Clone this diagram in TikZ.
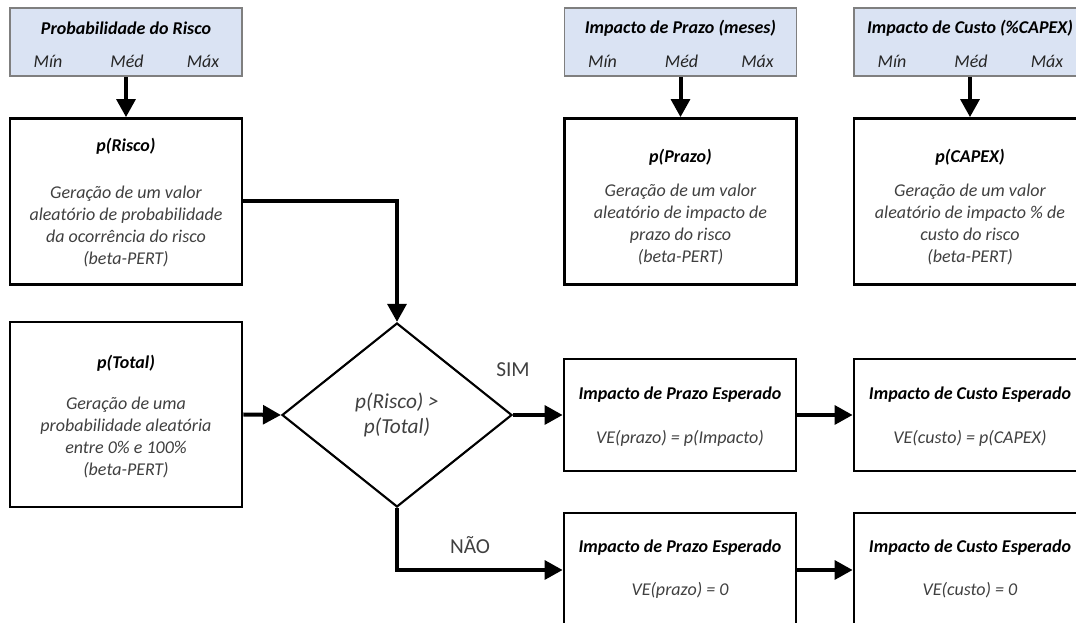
\documentclass[tikz,border=0pt]{standalone}
\usepackage{fontspec}
\setmainfont{Carlito}
\usetikzlibrary{arrows.meta,shapes.geometric}
\definecolor{hdrfill}{HTML}{DAE3F3}
\definecolor{hdrline}{HTML}{7F7F7F}
\definecolor{bodytxt}{HTML}{404040}
\tikzset{
  hdrbox/.style={draw=hdrline, line width=1.3pt, fill=hdrfill, minimum width=174pt, minimum height=51pt, inner sep=0pt},
  procbox/.style={draw=black, line width=2pt, fill=white, minimum width=174pt, inner sep=0pt},
  decbox/.style={draw=black, line width=1.6pt, diamond, minimum width=172.5pt, minimum height=138pt, inner sep=0pt, align=center, text=bodytxt, font=\fontsize{16}{19}\selectfont\itshape},
  ttl/.style={font=\fontsize{13.5}{16.5}\selectfont\bfseries\itshape, text=black, inner sep=0pt},
  hdrsub/.style={font=\fontsize{13.5}{16.5}\selectfont\itshape, text=black!85, inner sep=0pt},
  bodyt/.style={font=\fontsize{13.5}{16.5}\selectfont\itshape, text=bodytxt, align=center, inner sep=0pt},
  lbl/.style={font=\fontsize{16}{19}\selectfont, text=bodytxt, inner sep=0pt},
  arr/.style={line width=3pt, -{Triangle[length=13.5pt,width=14pt]}}
}
\begin{document}
\begin{tikzpicture}[x=0.75pt,y=-0.75pt]
\useasboundingbox (0,0) rectangle (1076,623);
\clip (0,0) rectangle (1076,623);
% headers
\node[hdrbox] (h1) at (126,42) {};
\node[hdrbox] (h2) at (680.5,42) {};
\node[hdrbox] (h3) at (970,42) {};
\node[ttl] (h1t) at (126,28) {Probabilidade do Risco};
\node[ttl] (h2t) at (680.5,28) {Impacto de Prazo (meses)};
\node[ttl] (h3t) at (970,28) {Impacto de Custo (\%CAPEX)};
\foreach \c/\n in {126/a,680.5/b,970/c}{
  \node[hdrsub] (min\n) at (\c-78,61) {Mín};
  \node[hdrsub] (med\n) at (\c+1,61) {Méd};
  \node[hdrsub] (max\n) at (\c+77,61) {Máx};
}
% process boxes
\node[procbox, minimum height=124.5pt] (rsk) at (126,201.5) {};
\node[procbox, minimum height=124.5pt] (prz) at (680.5,201.5) {};
\node[procbox, minimum height=124.5pt] (cpx) at (970,201.5) {};
\node[procbox, minimum height=138.75pt] (tot) at (126,414.5) {};
\node[procbox, minimum height=84pt] (sim1) at (680,415) {};
\node[procbox, minimum height=84pt] (sim2) at (970,415) {};
\node[procbox, minimum height=85.5pt] (nao1) at (680,570) {};
\node[procbox, minimum height=85.5pt] (nao2) at (970,570) {};
\node[decbox] (dec) at (397,415) {p(Risco) >\\p(Total)};
% texts
\node[ttl] (rskt) at (126,146) {p(Risco)};
\node[bodyt] (rskb) at (126,226.5) {Geração de um valor\\aleatório de probabilidade\\da ocorrência do risco\\(beta-PERT)};
\node[ttl] (przt) at (680.5,157) {p(Prazo)};
\node[bodyt] (przb) at (680.5,224.5) {Geração de um valor\\aleatório de impacto de\\prazo do risco\\(beta-PERT)};
\node[ttl] (cpxt) at (970,157) {p(CAPEX)};
\node[bodyt] (cpxb) at (970,224.5) {Geração de um valor\\aleatório de impacto \% de\\custo do risco\\(beta-PERT)};
\node[ttl] (tott) at (126,363) {p(Total)};
\node[bodyt] (totb) at (126,437.5) {Geração de uma\\probabilidade aleatória\\entre 0\% e 100\%\\(beta-PERT)};
\node[ttl] (sim1t) at (680,395) {Impacto de Prazo Esperado};
\node[bodyt] (sim1b) at (680,438) {VE(prazo) = p(Impacto)};
\node[ttl] (sim2t) at (970,395) {Impacto de Custo Esperado};
\node[bodyt] (sim2b) at (970,438) {VE(custo) = p(CAPEX)};
\node[ttl] (nao1t) at (680,548) {Impacto de Prazo Esperado};
\node[bodyt] (nao1b) at (680,590) {VE(prazo) = 0};
\node[ttl] (nao2t) at (970,548) {Impacto de Custo Esperado};
\node[bodyt] (nao2b) at (970,590) {VE(custo) = 0};
\node[lbl] (simlbl) at (513,370) {SIM};
\node[lbl] (naolbl) at (470,545) {NÃO};
% connectors
\draw[arr] (h1.south) -- (rsk.north);
\draw[arr] (h2.south) -- (prz.north);
\draw[arr] (h3.south) -- (cpx.north);
\draw[arr] (rsk.east) -| (dec.north);
\draw[arr] (tot.east) -- (dec.west);
\draw[arr] (dec.east) -- (sim1.west);
\draw[arr] (sim1.east) -- (sim2.west);
\draw[arr] (dec.south) |- (nao1.west);
\draw[arr] (nao1.east) -- (nao2.west);
\end{tikzpicture}
\end{document}
